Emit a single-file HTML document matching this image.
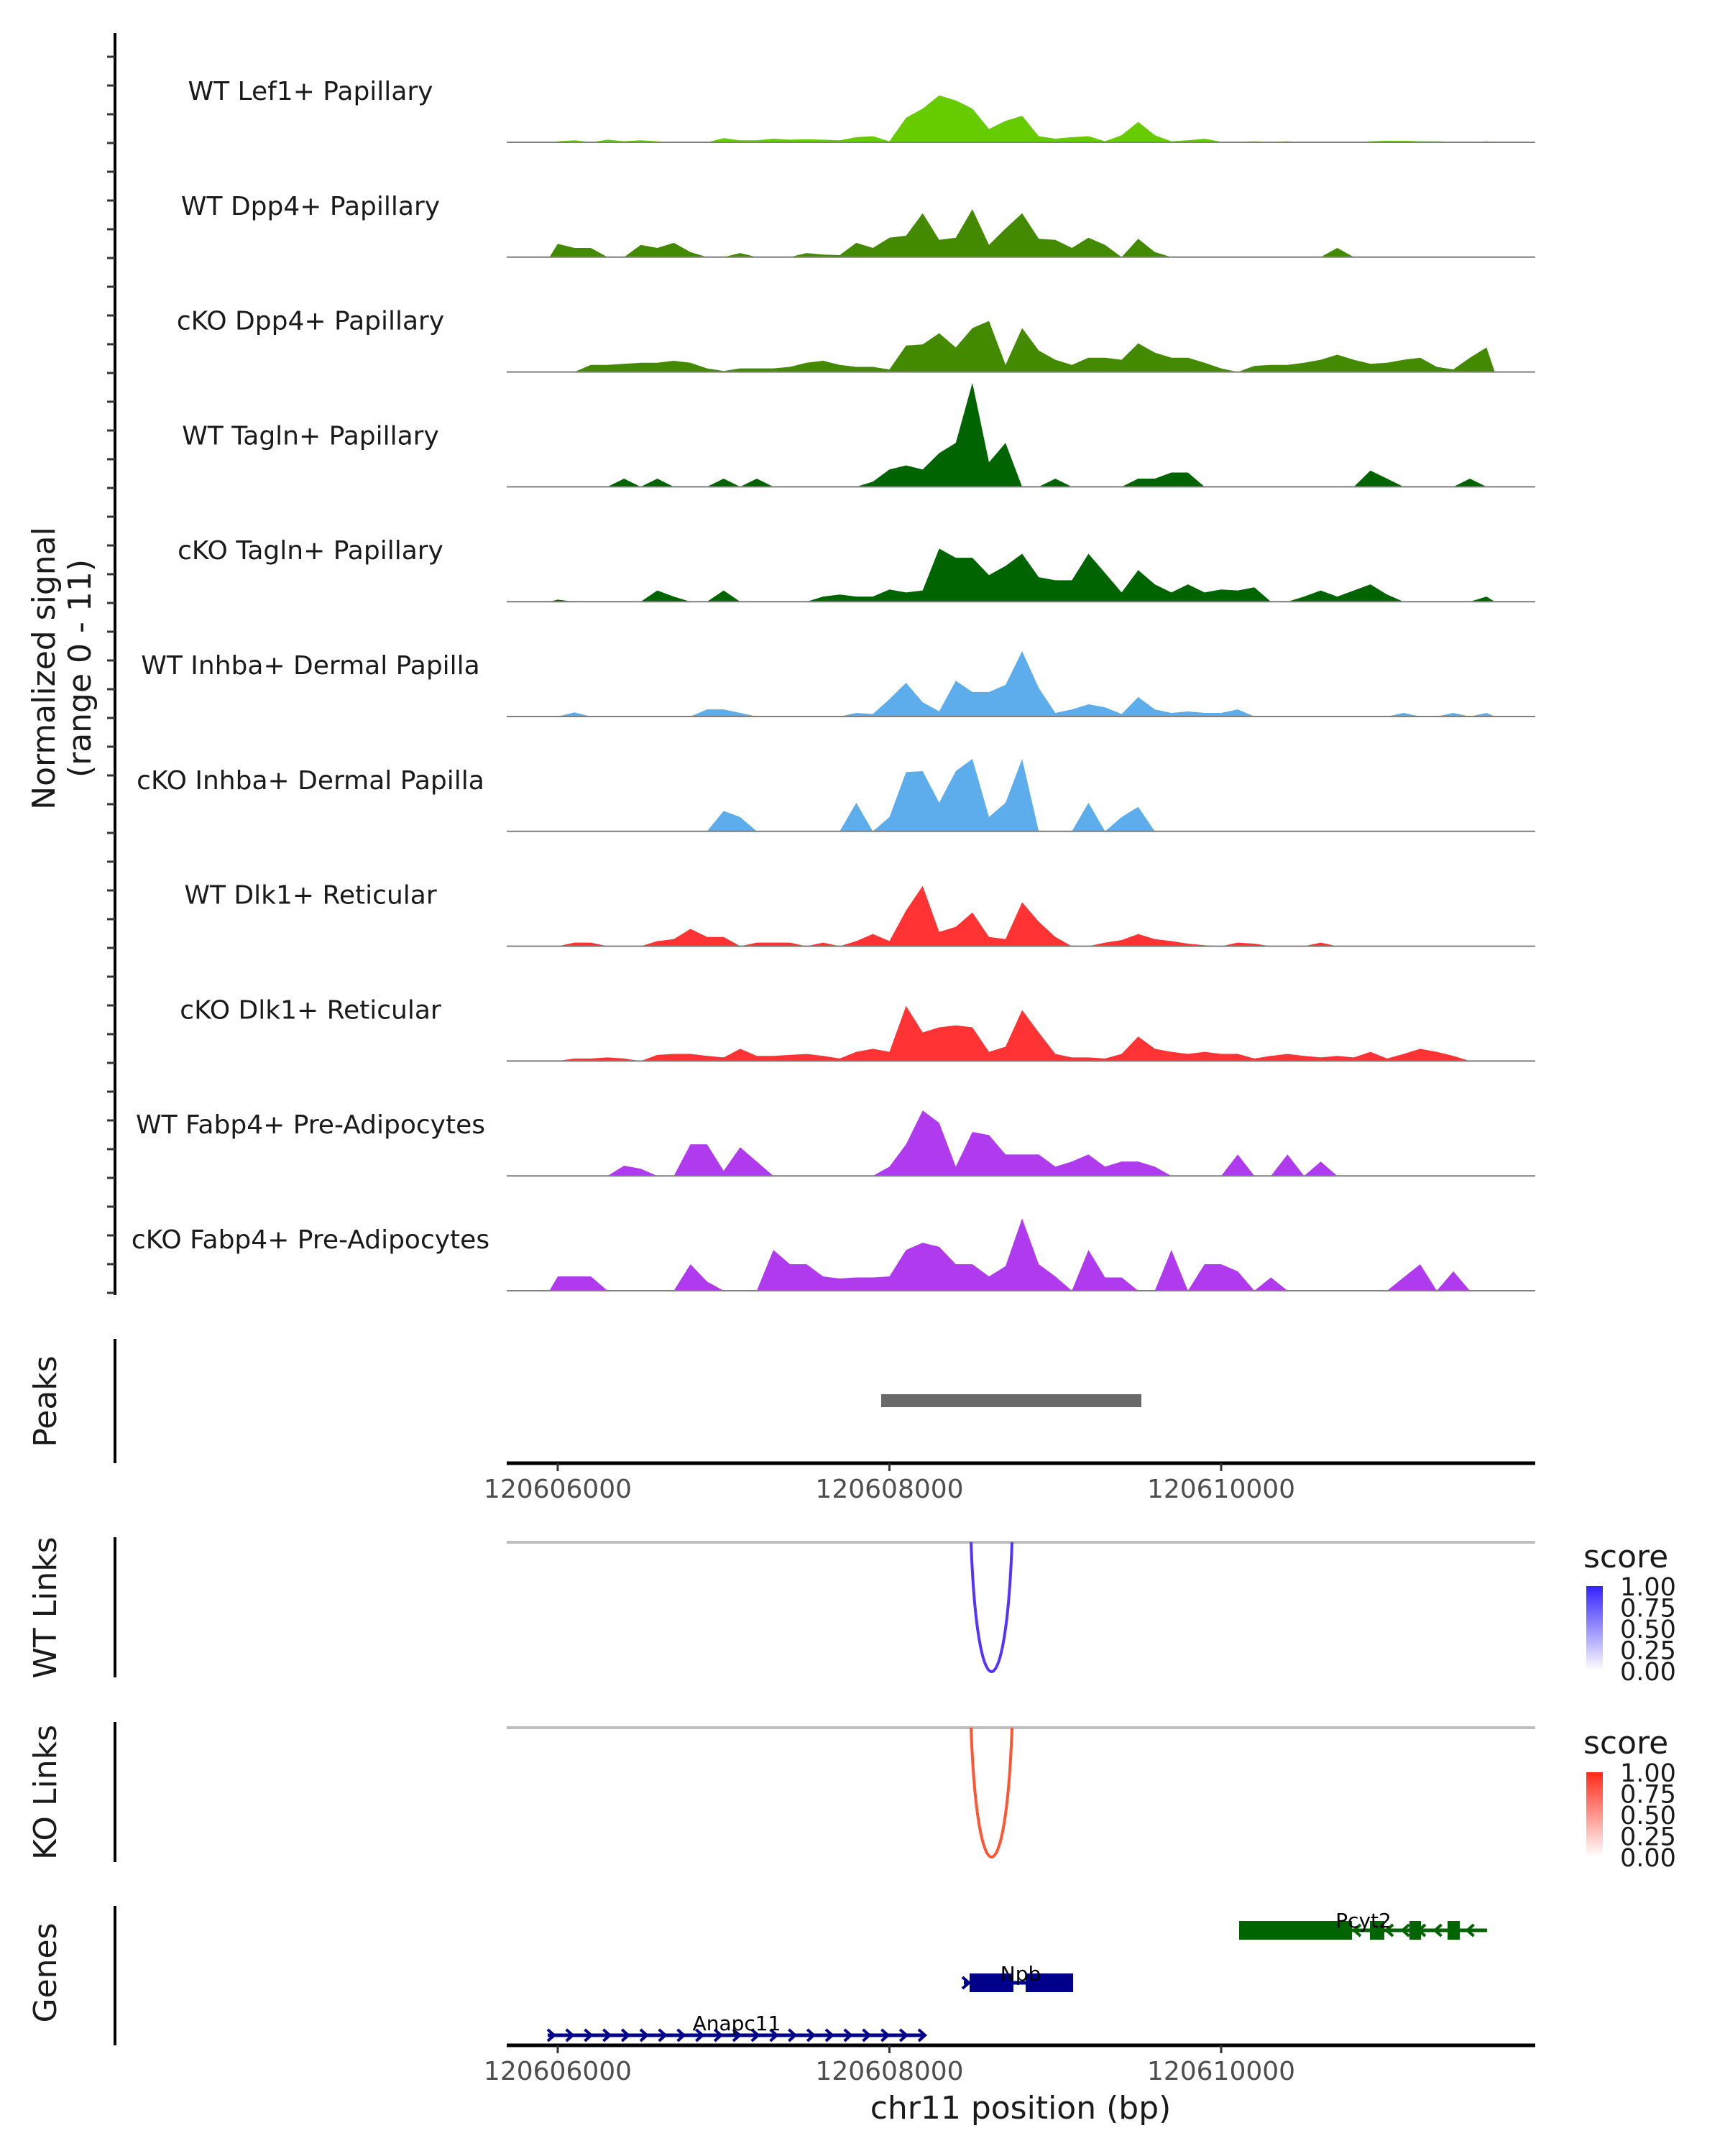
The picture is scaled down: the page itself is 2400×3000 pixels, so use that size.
<!DOCTYPE html>
<html><head><meta charset="utf-8"><style>
html,body{margin:0;padding:0;background:#fff;}
svg{display:block;font-family:"DejaVu Sans","Liberation Sans",sans-serif;}
</style></head><body>
<svg id="chart" width="2400" height="3000" viewBox="0 0 2400 3000" xmlns="http://www.w3.org/2000/svg">
<defs>
<linearGradient id="gBlue" x1="0" y1="1" x2="0" y2="0"><stop offset="0" stop-color="#ffffff"/><stop offset="1" stop-color="#3322ff"/></linearGradient>
<linearGradient id="gRed" x1="0" y1="1" x2="0" y2="0"><stop offset="0" stop-color="#ffffff"/><stop offset="1" stop-color="#ff2a1a"/></linearGradient>
</defs>
<g id="tracks"></g>
<g id="axes"></g>
<text transform="translate(76,930) rotate(-90)" text-anchor="middle" font-size="44" fill="#1a1a1a">Normalized signal</text>
<text transform="translate(126,930) rotate(-90)" text-anchor="middle" font-size="44" fill="#1a1a1a">(range 0 - 11)</text>
<text transform="translate(78,1950) rotate(-90)" text-anchor="middle" font-size="44" fill="#1a1a1a">Peaks</text>
<text transform="translate(78,2237) rotate(-90)" text-anchor="middle" font-size="44" fill="#1a1a1a">WT Links</text>
<text transform="translate(78,2494) rotate(-90)" text-anchor="middle" font-size="44" fill="#1a1a1a">KO Links</text>
<text transform="translate(78,2745) rotate(-90)" text-anchor="middle" font-size="44" fill="#1a1a1a">Genes</text>
<text x="1420" y="2948" text-anchor="middle" font-size="44" fill="#1a1a1a">chr11 position (bp)</text>
<g>
<text x="2203" y="2181" font-size="44" fill="#1a1a1a">score</text>
<rect x="2207" y="2207" width="23" height="118" fill="url(#gBlue)"/>
</g>
<g>
<text x="2203" y="2440" font-size="44" fill="#1a1a1a">score</text>
<rect x="2207" y="2466" width="23" height="118" fill="url(#gRed)"/>
</g>
<g id="legendLabels"></g>
<g id="links"></g>
<g id="genes"></g>
</svg>
<script>
const binStart = 120606000;
const binSize = 100;
const trackNames = ["WT Lef1+ Papillary","WT Dpp4+ Papillary","cKO Dpp4+ Papillary","WT Tagln+ Papillary","cKO Tagln+ Papillary","WT Inhba+ Dermal Papilla","cKO Inhba+ Dermal Papilla","WT Dlk1+ Reticular","cKO Dlk1+ Reticular","WT Fabp4+ Pre-Adipocytes","cKO Fabp4+ Pre-Adipocytes"];
const trackColors = ["#66cc00","#448a00","#448a00","#006400","#006400","#5dadec","#5dadec","#ff3333","#ff3333","#b03aee","#b03aee"];
const lef1WT = [0.1,0.2,0,0.25,0.1,0.2,0.1,0,0,0,0.4,0.2,0.2,0.35,0.25,0.3,0.25,0.2,0.5,0.6,0.1,2.4,3.3,4.6,4.1,3.3,1.3,2.1,2.6,0.6,0.35,0.5,0.6,0.1,0.7,2.0,0.7,0.1,0.2,0.35,0.05,0.05,0.1,0.05,0.1,0,0,0,0,0.1,0.15,0.15,0.1,0.1,0.05,0,0.1];
const dpp4WT = [1.3,0.9,0.9,0,0,1.2,0.9,1.4,0.5,0,0,0.4,0,0,0,0.4,0.25,0.2,1.4,0.9,1.9,2.1,4.3,1.7,1.9,4.7,1.2,2.8,4.3,1.8,1.7,0.9,1.9,1.2,0,1.8,0.5,0,0,0,0,0,0,0,0,0,0,0.9,0,0,0,0,0,0,0,0,0];
const dpp4KO = [0,0,0.7,0.7,0.8,0.9,0.9,1.1,0.9,0.35,0.1,0.35,0.35,0.35,0.5,0.9,1.1,0.7,0.5,0.5,0.25,2.6,2.7,3.8,2.4,4.3,5.0,0.7,4.3,2.1,1.2,0.7,1.4,1.4,1.2,2.8,1.9,1.4,1.4,0.9,0.35,0,0.6,0.7,0.7,0.9,1.2,1.7,1.2,0.8,0.9,1.2,1.4,0.5,0.25,1.4,2.4];
const taglnWT = [0,0,0,0,0.8,0,0.8,0,0,0,0.8,0,0.8,0,0,0,0,0,0,0.5,1.7,2.1,1.7,3.3,4.3,10.2,2.4,4.3,0,0,0.8,0,0,0,0,0.8,0.8,1.4,1.4,0,0,0,0,0,0,0,0,0,0,1.6,0.8,0,0,0,0,0.8,0];
const taglnKO = [0.2,0,0,0,0,0,1.1,0.5,0,0,1.1,0,0,0,0,0,0.5,0.7,0.5,0.5,1.2,0.9,1.1,5.2,4.3,4.3,2.6,3.5,4.7,2.4,2.1,2.1,4.7,2.8,0.9,3.1,1.7,0.9,1.7,0.9,1.2,1.1,1.4,0,0,0.5,1.1,0.5,1.1,1.7,0.7,0,0,0,0,0,0.5];
const inhbaWT = [0,0.4,0,0,0,0,0,0,0,0.7,0.7,0.35,0,0,0,0,0,0,0.35,0.25,1.7,3.3,1.4,0.5,3.5,2.4,2.4,3.1,6.4,2.8,0.35,0.7,1.2,0.9,0.25,1.9,0.7,0.35,0.5,0.35,0.35,0.7,0,0,0,0,0,0,0,0,0,0.35,0,0,0.35,0,0.35];
const inhbaKO = [0,0,0,0,0,0,0,0,0,0,2.0,1.4,0,0,0,0,0,0,2.8,0,1.4,5.8,5.9,2.8,5.9,7.1,1.4,2.8,7.1,0,0,0,2.8,0,1.4,2.4,0,0,0,0,0,0,0,0,0,0,0,0,0,0,0,0,0,0,0,0,0];
const dlk1WT = [0,0.35,0.35,0,0,0,0.5,0.7,1.7,0.9,0.9,0,0.35,0.35,0.35,0,0.35,0,0.5,1.2,0.5,3.5,5.9,1.4,1.9,3.3,0.9,0.7,4.3,2.4,0.9,0,0,0.35,0.6,1.2,0.7,0.5,0.25,0.1,0,0.35,0.25,0,0,0,0.35,0,0,0,0,0,0,0,0,0,0];
const dlk1KO = [0,0.25,0.25,0.35,0.25,0,0.6,0.7,0.7,0.5,0.35,1.2,0.5,0.5,0.6,0.7,0.5,0.25,0.9,1.2,0.9,5.4,2.8,3.3,3.5,3.3,0.9,1.4,5.0,2.8,0.7,0.35,0.35,0.25,0.7,2.4,1.2,0.9,0.7,0.9,0.7,0.7,0.25,0.5,0.7,0.5,0.35,0.5,0.35,0.9,0.25,0.7,1.2,0.9,0.5,0,0];
const fabp4WT = [0,0,0,0,1.0,0.7,0,0,3.1,3.1,0.5,2.8,1.4,0,0,0,0,0,0,0,0.9,3.1,6.4,5.2,0.9,4.3,4.0,2.1,2.1,2.1,0.9,1.4,2.1,0.9,1.4,1.4,0.9,0,0,0,0,2.1,0,0,2.1,0,1.4,0,0,0,0,0,0,0,0,0,0];
const fabp4KO = [1.4,1.4,1.4,0,0,0,0,0,2.6,0.9,0,0,0,4.0,2.6,2.6,1.4,1.2,1.3,1.3,1.4,4.0,4.7,4.3,2.6,2.6,1.4,2.4,7.1,2.6,1.4,0,4.0,1.3,1.3,0,0,4.0,0,2.6,2.6,1.9,0,1.3,0,0,0,0,0,0,0,1.3,2.6,0,1.9,0,0];
const trackData = [lef1WT,dpp4WT,dpp4KO,taglnWT,taglnKO,inhbaWT,inhbaKO,dlk1WT,dlk1KO,fabp4WT,fabp4KO];
const xTicks = [120606000,120608000,120610000];
const peakStart = [120607950];
const peakEnd = [120609519];
const linkStart = [120608492];
const linkEnd = [120608739];
const legendTicks = ["1.00","0.75","0.50","0.25","0.00"];

const NS = "http://www.w3.org/2000/svg";
function xs(bp){ return 776 + (bp - 120606000) * 461.5 / 2000; }
function bpx(x){ return 120606000 + (x - 776) * 2000 / 461.5; }
const pxPerUnit = 14.2;
function baseY(k){ return 198 + k * 159.8; }
function ys(v, k){ return baseY(k) - v * pxPerUnit; }
function mk(tag, attrs, parent){ const e = document.createElementNS(NS, tag); for (const a in attrs) e.setAttribute(a, attrs[a]); parent.appendChild(e); return e; }
const AX0 = 705, AX1 = 2136;

const tg = document.getElementById('tracks');
trackData.forEach((arr, k) => {
  const g = mk('g', {}, tg);
  
  
  const lab = mk('text', {x: 432, y: baseY(k) - 59, 'text-anchor': 'middle', 'font-size': 36, fill: '#1a1a1a'}, g);
  lab.textContent = trackNames[k];
  
  
  const b = baseY(k);
  let d = 'M' + xs(binStart - binSize / 2).toFixed(1) + ' ' + b;
  arr.forEach((v, i) => {
    const c = binStart + i * binSize;
    d += ' L' + xs(c).toFixed(1) + ' ' + ys(v, k).toFixed(1);
  });
  d += ' L' + xs(binStart + (arr.length - 0.5) * binSize).toFixed(1) + ' ' + b + ' Z';
  const p = mk('path', {d: d, fill: trackColors[k]}, g);
  
  
  const bl = mk('line', {x1: AX0, x2: AX1, y1: b, y2: b, stroke: '#7f7f7f', 'stroke-width': 2}, g);
  
  
});

const ax = document.getElementById('axes');
function vline(x, y1, y2, name){ const l = mk('line', {x1: x, x2: x, y1: y1, y2: y2, stroke: '#000', 'stroke-width': 4}, ax);   }
vline(160, 46, 1802, 'signal-y-axis');
for (let t = 79; t <= 1800; t += 40) {
  const l = mk('line', {x1: 149, x2: 160, y1: t, y2: t, stroke: '#333', 'stroke-width': 3}, ax);
  
  
}
vline(160, 1863, 2036, 'peaks-y-axis');
vline(160, 2139, 2334, 'wt-links-y-axis');
vline(160, 2396, 2591, 'ko-links-y-axis');
vline(160, 2652, 2846, 'genes-y-axis');
function xAxis(y, name){
  const l = mk('line', {x1: AX0, x2: AX1, y1: y, y2: y, stroke: '#000', 'stroke-width': 5}, ax);
  
  
  xTicks.forEach(t => {
    const tk = mk('line', {x1: xs(t), x2: xs(t), y1: y, y2: y + 11, stroke: '#333', 'stroke-width': 3}, ax);
    
    
    const tl = mk('text', {x: xs(t), y: y + 48, 'text-anchor': 'middle', 'font-size': 36, fill: '#4d4d4d'}, ax);
    tl.textContent = t;
    
    
  });
}
xAxis(2036, 'peaks-x-axis');
xAxis(2846, 'genes-x-axis');
peakStart.forEach((s, i) => {
  const r = mk('rect', {x: xs(s), y: 1940, width: xs(peakEnd[i]) - xs(s), height: 18, fill: '#696969'}, ax);
  
  
});

const lk = document.getElementById('links');
function linkPanel(top, bottom, color, name){
  const gl = mk('line', {x1: AX0, x2: AX1, y1: top, y2: top, stroke: '#bebebe', 'stroke-width': 4}, lk);
  
  
  linkStart.forEach((s, i) => {
    const x1 = xs(s), x2 = xs(linkEnd[i]);
    const cy = (bottom - 0.25 * top) / 0.75;
    const p = mk('path', {d: 'M' + x1 + ' ' + top + ' C' + (x1 + (x2 - x1) * 0.15) + ' ' + cy + ' ' + (x2 - (x2 - x1) * 0.15) + ' ' + cy + ' ' + x2 + ' ' + top, fill: 'none', stroke: color, 'stroke-width': 4}, lk);
    
    
  });
}
linkPanel(2146, 2326, '#5533ff', 'wt-link');
linkPanel(2404, 2584, '#ff5533', 'ko-link');

const ll = document.getElementById('legendLabels');
[2207, 2466].forEach((top) => {
  legendTicks.forEach((t, i) => {
    const tx = mk('text', {x: 2254, y: top + i * 29.5 + 13, 'font-size': 35, fill: '#1a1a1a'}, ll);
    tx.textContent = t;
    
    
  });
});

const gg = document.getElementById('genes');
function geneLine(x1, x2, y, color){ mk('line', {x1: x1, x2: x2, y1: y, y2: y, stroke: color, 'stroke-width': 5}, gg); }
function chevrons(x1, x2, y, color, dir, step){
  for (let x = x1; x <= x2; x += step) {
    const d = dir > 0 ? 'M' + (x - 5) + ' ' + (y - 8) + ' L' + (x + 4) + ' ' + y + ' L' + (x - 5) + ' ' + (y + 8) : 'M' + (x + 5) + ' ' + (y - 8) + ' L' + (x - 4) + ' ' + y + ' L' + (x + 5) + ' ' + (y + 8);
    mk('path', {d: d, fill: 'none', stroke: color, 'stroke-width': 4}, gg);
  }
}
// Anapc11
geneLine(762, 1286, 2832, '#00008b');
chevrons(767, 1283, 2832, '#00008b', 1, 25.8);
// Npb
geneLine(1341, 1493, 2759, '#00008b');
chevrons(1344, 1344, 2759, '#00008b', 1, 20);
mk('rect', {x: 1349, y: 2746, width: 61, height: 26, fill: '#00008b'}, gg);
mk('rect', {x: 1427, y: 2746, width: 66, height: 26, fill: '#00008b'}, gg);
// Pcyt2
geneLine(1724, 2069, 2686, '#006400');
mk('rect', {x: 1724, y: 2673, width: 157, height: 26, fill: '#006400'}, gg);
mk('rect', {x: 1906, y: 2673, width: 20, height: 26, fill: '#006400'}, gg);
mk('rect', {x: 1961, y: 2673, width: 16, height: 26, fill: '#006400'}, gg);
mk('rect', {x: 2014, y: 2673, width: 17, height: 26, fill: '#006400'}, gg);
chevrons(1888, 2067, 2686, '#006400', -1, 22.5);
[['Anapc11', 1025, 2825], ['Npb', 1420, 2756], ['Pcyt2', 1897, 2682]].forEach(g => {
  const t = mk('text', {x: g[1], y: g[2], 'text-anchor': 'middle', 'font-size': 28, fill: '#000'}, gg);
  t.textContent = g[0];
  
  
});






</script>
</body></html>
